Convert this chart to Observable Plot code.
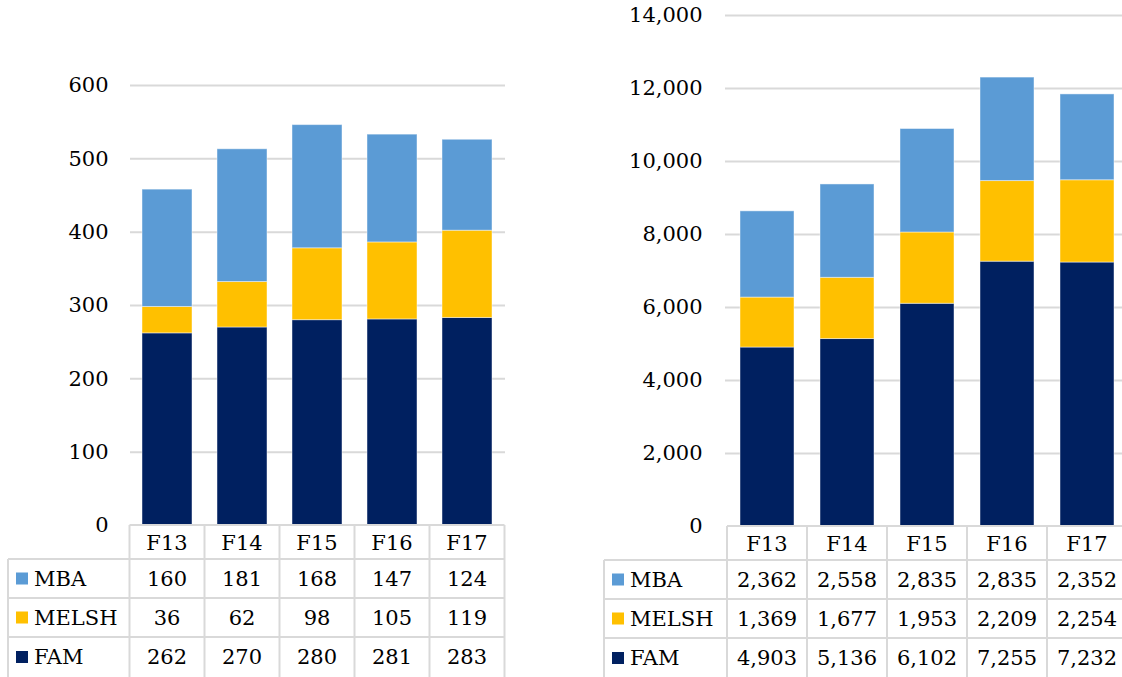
<!DOCTYPE html>
<html><head><meta charset="utf-8">
<script src="https://cdn.jsdelivr.net/npm/d3@7"></script>
<script src="https://cdn.jsdelivr.net/npm/@observablehq/plot@0.6"></script>
<style>
html,body{margin:0;padding:0;background:#fff}
body{overflow:hidden;width:1122px;height:677px;position:relative;font-family:"DejaVu Serif",serif}
#left{position:absolute;left:0;top:0;width:560px;height:677px}
#right{position:absolute;left:560px;top:0;width:570px;height:677px}
svg{max-width:none !important}
</style></head><body>
<div id="left"></div><div id="right"></div>
<script>
// ---- data ----
const years = ["F13", "F14", "F15", "F16", "F17"];
const stackOrder = ["FAM", "MELSH", "MBA"];      // bottom to top
const tableOrder = ["MBA", "MELSH", "FAM"];      // table rows, top to bottom
const seriesColors = ["#002060", "#FFC000", "#5B9BD5"];
const leftFAM = [262, 270, 280, 281, 283];
const leftMELSH = [36, 62, 98, 105, 119];
const leftMBA = [160, 181, 168, 147, 124];
const rightFAM = [4903, 5136, 6102, 7255, 7232];
const rightMELSH = [1369, 1677, 1953, 2209, 2254];
const rightMBA = [2362, 2558, 2835, 2835, 2352];
const leftTicks = [0, 100, 200, 300, 400, 500, 600];
const rightTicks = [0, 2000, 4000, 6000, 8000, 10000, 12000, 14000];

const GRID = "#d9d9d9";
const FONT = "DejaVu Serif";

function toRows(series) {
  const out = [];
  for (const name of stackOrder) series[name].forEach((v, i) => out.push({year: years[i], series: name, value: v}));
  return out;
}

function panel(el, cfg) {
  const data = toRows(cfg.series);
  const fmt = d3.format(",");
  const chart = Plot.plot({
    width: cfg.width, height: 677,
    marginTop: cfg.marginTop, marginBottom: cfg.marginBottom,
    marginLeft: cfg.marginLeft, marginRight: cfg.marginRight,
    style: {fontFamily: FONT, fontSize: "21px", color: "#000", background: "transparent", overflow: "visible", maxWidth: "none"},
    x: {domain: years, paddingInner: 0.33, paddingOuter: 0.165, axis: null},
    y: {domain: [0, cfg.ticks[cfg.ticks.length - 1]], ticks: cfg.ticks, tickFormat: fmt, tickSize: 0, tickPadding: cfg.tickPadding, label: null},
    color: {domain: stackOrder, range: seriesColors},
    marks: [
      Plot.ruleY(cfg.ticks.filter(t => t > 0), {stroke: GRID, strokeWidth: 2}),
      Plot.barY(data, {x: "year", y: "value", fill: "series", order: stackOrder, stroke: "white", strokeOpacity: 0.45, strokeWidth: 1})
    ]
  });
  const svg = d3.select(chart);
  const xs = chart.scale("x"), ys = chart.scale("y");
  const step = xs.step, bw = xs.bandwidth;
  const center = y => xs.apply(y) + bw / 2;
  const colEdges = years.map(y => center(y) - step / 2).concat([center(years[years.length - 1]) + step / 2]);
  const top = ys.apply(0);
  const rowsY = [top, top + 34, top + 73, top + 112, top + 152];
  const g = svg.append("g").attr("font-family", FONT).attr("font-size", 21).attr("fill", "#000");
  const line = (x1, y1, x2, y2) => g.append("line").attr("x1", x1).attr("y1", y1).attr("x2", x2).attr("y2", y2)
    .attr("stroke", GRID).attr("stroke-width", 2);
  // horizontal lines
  line(colEdges[0], top, colEdges[5], top);
  for (let r = 1; r <= 3; r++) line(cfg.legendLeft, rowsY[r], colEdges[5], rowsY[r]);
  // vertical lines
  colEdges.forEach(x => line(x, top, x, 680));
  line(cfg.legendLeft, rowsY[1], cfg.legendLeft, 680);
  // header
  years.forEach(y => g.append("text").attr("x", center(y)).attr("y", (rowsY[0] + rowsY[1]) / 2 + 1)
    .attr("text-anchor", "middle").attr("dominant-baseline", "central").text(y));
  // rows
  tableOrder.forEach((name, r) => {
    const cy = (rowsY[r + 1] + rowsY[r + 2]) / 2;
    g.append("rect").attr("x", cfg.legendLeft + 8).attr("y", cy - 6).attr("width", 12).attr("height", 12)
      .attr("fill", seriesColors[stackOrder.indexOf(name)]);
    g.append("text").attr("x", cfg.legendLeft + 26).attr("y", cy).attr("text-anchor", "start")
      .attr("dominant-baseline", "central").text(name);
    cfg.series[name].forEach((v, i) => g.append("text").attr("x", center(years[i])).attr("y", cy)
      .attr("text-anchor", "middle").attr("dominant-baseline", "central").text(fmt(v)));
  });
  el.appendChild(chart);
}

panel(document.getElementById("left"), {
  width: 560, marginLeft: 130, marginRight: 55, marginTop: 85, marginBottom: 152, tickPadding: 22,
  ticks: leftTicks, legendLeft: 8,
  series: {FAM: leftFAM, MELSH: leftMELSH, MBA: leftMBA}
});
panel(document.getElementById("right"), {
  width: 570, marginLeft: 165, marginRight: 2, marginTop: 15, marginBottom: 151, tickPadding: 23,
  ticks: rightTicks, legendLeft: 44,
  series: {FAM: rightFAM, MELSH: rightMELSH, MBA: rightMBA}
});
</script>
</body></html>
